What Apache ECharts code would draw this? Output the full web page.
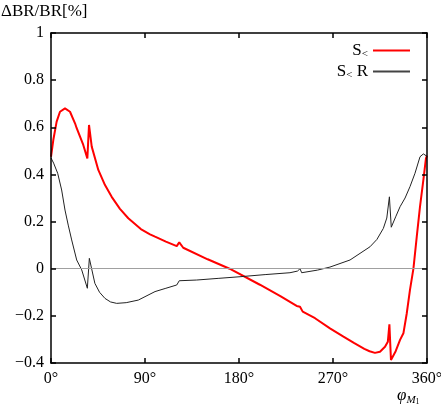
<!DOCTYPE html>
<html>
<head>
<meta charset="utf-8">
<script src="https://cdn.jsdelivr.net/npm/echarts@6/dist/echarts.min.js"></script>
<style>html,body{margin:0;padding:0;background:#fff}#c{width:441px;height:409px}</style>
</head>
<body>
<div id="c"></div>
<script>
// Data
var xTicks = [0, 90, 180, 270, 360];
var yTicks = [-0.4, -0.2, 0, 0.2, 0.4, 0.6, 0.8, 1];

var phiRed = [0, 2.2, 5.4, 8.6, 13.4, 18.2, 23, 24.6, 27.8, 30.9, 34.8, 36.4, 39, 45.3, 51.7, 58.1, 66, 74, 86, 94.8, 99.6, 110, 120.4, 122.8, 126.6, 150, 171, 200, 220, 235.2, 238.4, 241, 252.8, 267.1, 280, 290, 300, 305, 310.2, 315, 319.8, 322.5, 324, 325.5, 330, 334.2, 337.4, 340.6, 343.7, 347, 350.2, 353.3, 356.5, 359, 360];
var valRed = [0.475, 0.546, 0.624, 0.666, 0.680, 0.666, 0.617, 0.596, 0.560, 0.525, 0.468, 0.610, 0.518, 0.419, 0.355, 0.305, 0.254, 0.214, 0.168, 0.146, 0.136, 0.115, 0.096, 0.112, 0.089, 0.040, 0.000, -0.068, -0.117, -0.158, -0.161, -0.182, -0.210, -0.253, -0.288, -0.315, -0.340, -0.350, -0.357, -0.352, -0.331, -0.310, -0.236, -0.387, -0.350, -0.302, -0.274, -0.190, -0.090, 0.000, 0.136, 0.263, 0.376, 0.468, 0.480];

var phiBlack = [0, 2.5, 6.4, 10.2, 13.4, 16.5, 19.8, 24.6, 29.4, 34.8, 36.7, 42, 46.5, 51.7, 57, 62.9, 72, 83.6, 99.6, 110, 120.4, 122.8, 139.5, 160, 181, 205, 228.8, 236, 238.4, 240, 255, 267.1, 286.3, 305.4, 312, 318.2, 321.5, 324, 325.8, 330, 334.2, 339, 343.7, 348.5, 353.3, 356.5, 359.7, 360];
var valBlack = [0.470, 0.448, 0.405, 0.334, 0.249, 0.185, 0.122, 0.037, -0.005, -0.083, 0.044, -0.062, -0.100, -0.126, -0.141, -0.147, -0.144, -0.133, -0.097, -0.083, -0.069, -0.051, -0.048, -0.041, -0.034, -0.025, -0.017, -0.010, 0.000, -0.017, -0.006, 0.007, 0.037, 0.093, 0.124, 0.171, 0.215, 0.305, 0.176, 0.220, 0.263, 0.300, 0.348, 0.405, 0.475, 0.487, 0.478, 0.476];

function zip(a, b) { return a.map(function (v, i) { return [v, b[i]]; }); }

var FONT = 'Liberation Serif';
var chart = echarts.init(document.getElementById('c'));
function axLine() { return { show: true, onZero: false, lineStyle: { color: '#000', width: 1.5 } }; }
function axTick() { return { show: true, inside: true, length: 5, lineStyle: { color: '#000', width: 1.5 } }; }

chart.setOption({
  animation: false,
  grid: { left: 51, right: 14, top: 33, bottom: 46, outerBoundsMode: 'none', containLabel: false },
  legend: {
    right: 26, top: 37, orient: 'vertical', align: 'right',
    itemWidth: 37, itemHeight: 2, itemGap: 3,
    textStyle: {
      fontFamily: FONT, fontSize: 17, color: '#000',
      rich: {
        a: { fontFamily: FONT, fontSize: 17, color: '#000' },
        s: { fontFamily: FONT, fontSize: 11, color: '#000', verticalAlign: 'bottom', padding: [8, 0, 0, 0] }
      }
    },
    formatter: function (n) { return n === 'S<' ? '{a|S}{s|<}' : '{a|S}{s|<}{a| R}'; },
    data: [
      { name: 'S<', icon: 'rect', itemStyle: { color: '#ff0000' } },
      { name: 'S< R', icon: 'rect', itemStyle: { color: '#444' } }
    ]
  },
  xAxis: [{
    type: 'value', min: 0, max: 360, interval: 90, z: 10,
    axisLine: axLine(), axisTick: axTick(), splitLine: { show: false },
    axisLabel: { fontFamily: FONT, fontSize: 16, color: '#000', margin: 8, formatter: function (v) { return v + '°'; } },
    name: '{p|\u03C6}{s|M}{t|1}', nameLocation: 'end', nameGap: -30,
    nameTextStyle: {
      align: 'left', verticalAlign: 'middle', padding: [66, 0, 0, 0],
      fontFamily: FONT, fontSize: 17, color: '#000',
      rich: {
        p: { fontFamily: FONT, fontSize: 17, fontStyle: 'italic', color: '#000' },
        s: { fontFamily: FONT, fontSize: 11, fontStyle: 'italic', color: '#000', verticalAlign: 'bottom', padding: [8, 0, 0, 0] },
        t: { fontFamily: FONT, fontSize: 8, color: '#000', verticalAlign: 'bottom', padding: [11, 0, 0, 0] }
      }
    }
  }, {
    type: 'value', min: 0, max: 360, interval: 90, position: 'top', z: 10,
    axisLine: axLine(), axisTick: axTick(), splitLine: { show: false }, axisLabel: { show: false }
  }],
  yAxis: [{
    type: 'value', min: -0.4, max: 1, interval: 0.2, z: 10,
    axisLine: axLine(), axisTick: axTick(), splitLine: { show: false },
    axisLabel: { fontFamily: FONT, fontSize: 16, color: '#000', margin: 7,
      formatter: function (v) { var s = (Math.round(v * 10) / 10).toString(); return s.replace('-', '\u2212'); } }
  }, {
    type: 'value', min: -0.4, max: 1, interval: 0.2, position: 'right', z: 10,
    axisLine: axLine(), axisTick: axTick(), splitLine: { show: false }, axisLabel: { show: false }
  }],
  series: [{
    name: 'S<', type: 'line', symbol: 'none', data: zip(phiRed, valRed),
    lineStyle: { color: '#ff0000', width: 2 }, itemStyle: { color: '#ff0000' }, z: 3,
    markLine: { silent: true, symbol: 'none', label: { show: false },
      lineStyle: { color: '#a0a0a0', width: 1, type: 'solid' }, data: [{ yAxis: 0 }] }
  }, {
    name: 'S< R', type: 'line', symbol: 'none', data: zip(phiBlack, valBlack),
    lineStyle: { color: '#222', width: 1 }, itemStyle: { color: '#222' }, z: 4
  }],
  graphic: [{
    type: 'text', left: 1, top: 3,
    style: { text: '\u0394BR/BR[%]', font: '17px "Liberation Serif"', fill: '#000' }
  }]
});
</script>
</body>
</html>
